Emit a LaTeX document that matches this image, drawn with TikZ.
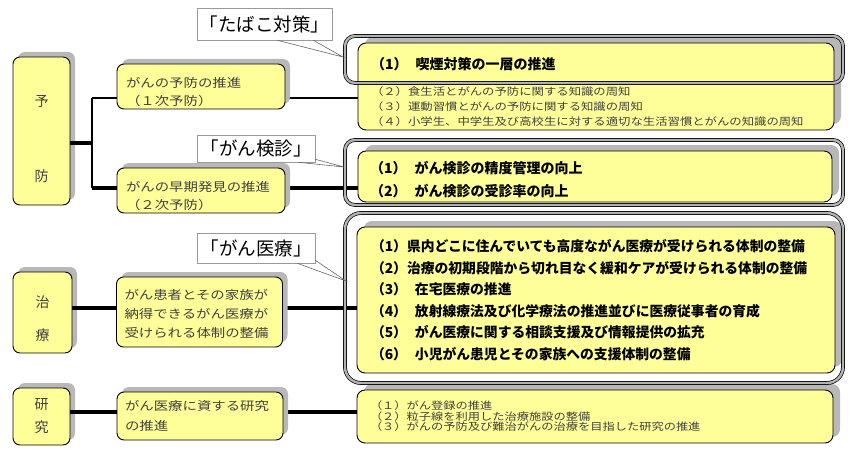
\documentclass[tikz,border=0pt]{standalone}
\usepackage{fontspec}
\setmainfont{Noto Sans CJK JP}
\newfontfamily\mincho[FakeStretch=1.2]{Noto Sans CJK JP}
\usetikzlibrary{shadows}
\usetikzlibrary{calc}

\definecolor{boxyellow}{HTML}{FFFF99}
\definecolor{shadowgray}{HTML}{B8B8B8}
\definecolor{textgray}{HTML}{404040}

% strut that pushes a text block down inside its box
\newcommand{\pushdown}[1]{\rule{0pt}{#1}}

\tikzset{
  boxshadow/.style={drop shadow={shadow xshift=5pt, shadow yshift=5pt, fill=shadowgray, opacity=1}},
  leftbox/.style={draw, line width=0.9pt, fill=boxyellow, rounded corners=7pt, boxshadow,
    align=center, inner sep=0pt, text=textgray, font=\fontsize{14}{18}\selectfont},
  midbox/.style={draw, line width=0.9pt, fill=boxyellow, rounded corners=7pt, boxshadow,
    align=left, text width=150pt, inner xsep=8pt, inner ysep=0pt, text=textgray,
    font=\mincho\fontsize{12}{18}\selectfont},
  itembox/.style={draw, line width=0.9pt, fill=boxyellow, rounded corners=8pt,
    drop shadow={shadow xshift=7pt, shadow yshift=6pt, fill=shadowgray, opacity=1},
    align=left, text width=450pt, inner ysep=0pt},
  framebox/.style={draw=black, line width=0.7pt, double=gray!60, double distance=2.4pt,
    rounded corners=10pt, inner sep=0pt},
  callout/.style={draw=gray!80, line width=0.6pt, fill=white, inner sep=0pt,
    font=\fontsize{18.5}{20}\selectfont},
  tail/.style={draw=gray!80!black, line width=0.6pt},
  thinline/.style={line width=2pt},
  branch/.style={line width=2.8pt},
  trunk/.style={line width=4pt},
}

\begin{document}
\begin{tikzpicture}[x=1pt, y=-1pt]

\useasboundingbox (0,0) rectangle (855,452);

% --- fork points of the connectors ---
\coordinate (forkM) at (92,143);
\coordinate (forkA) at (92,98);
\coordinate (forkB) at (92,188);

% --- left column ---
\node[leftbox, minimum width=57pt, minimum height=148pt] (yobou) at (41.5,131) {\pushdown{28pt}予\\[57pt]防};
\node[leftbox, minimum width=59pt, minimum height=81pt] (chiryo) at (42.5,312.5) {\pushdown{25pt}治\\[15pt]療};
\node[leftbox, minimum width=57pt, minimum height=57pt] (kenkyu) at (41.5,416.5) {研\\[5pt]究};

% --- connectors ---
\draw[trunk] (yobou.east |- forkM) -- (forkM);
\draw[branch] (forkA) -- (forkB);
\draw[branch] (forkA) -- (forkA -| 117,0);
\draw[trunk] (forkB) -- (forkB -| 117,0);
\draw[thinline] (285,98) -- (358,98);
\draw[trunk] (285,188) -- (358,188);
\draw[trunk] (chiryo.east |- 0,308) -- (357,308);
\draw[trunk] (kenkyu.east |- 0,412) -- (357,412);

% --- middle column ---
\node[midbox, minimum width=168pt, minimum height=45pt] (ichiji) at (201,86.5) {\pushdown{21pt}がんの予防の推進\\（１次予防）};
\node[midbox, minimum width=168pt, minimum height=45pt] (niji) at (201,190.5) {\pushdown{21pt}がんの早期発見の推進\\（２次予防）};
\node[midbox, minimum width=165pt, minimum height=70pt, font=\mincho\fontsize{12}{19}\selectfont] (seibi) at (199.5,312)
  {\pushdown{14pt}がん患者とその家族が\\納得できるがん医療が\\受けられる体制の整備};
\node[midbox, minimum width=166pt, minimum height=48pt, font=\mincho\fontsize{12}{20}\selectfont] (suishin) at (200,416)
  {がん医療に資する研究\\の推進};

% --- right column ---
\node[itembox, minimum width=476pt, minimum height=87pt, inner xsep=13pt, text=textgray,
  font=\mincho\fontsize{10.3}{15}\selectfont] (tabako) at (596,86.5)
  {{\normalfont\bfseries\fontsize{14}{16}\selectfont\color{black}\pushdown{22pt}（1）\hspace{8pt}喫煙対策の一層の推進}\\[11pt]
   （２）食生活とがんの予防に関する知識の周知\\
   （３）運動習慣とがんの予防に関する知識の周知\\
   （４）小学生、中学生及び高校生に対する適切な生活習慣とがんの知識の周知};

\node[itembox, minimum width=474pt, minimum height=51pt, inner xsep=12pt,
  font=\bfseries\fontsize{14}{23}\selectfont] (kenshin) at (595,176.5)
  {\pushdown{19pt}（1）\hspace{8pt}がん検診の精度管理の向上\\
   （2）\hspace{8pt}がん検診の受診率の向上};

\node[itembox, minimum width=478pt, minimum height=146pt, inner xsep=14pt,
  font=\bfseries\fontsize{13.8}{21.5}\selectfont] (iryo) at (596,300)
  {（1）県内どこに住んでいても高度ながん医療が受けられる体制の整備\\
   （2）治療の初期段階から切れ目なく緩和ケアが受けられる体制の整備\\
   （3）\hspace{8pt}在宅医療の推進\\
   （4）\hspace{8pt}放射線療法及び化学療法の推進並びに医療従事者の育成\\
   （5）\hspace{8pt}がん医療に関する相談支援及び情報提供の拡充\\
   （6）\hspace{8pt}小児がん患児とその家族への支援体制の整備};

\node[itembox, minimum width=476pt, minimum height=53pt, inner xsep=13pt, text=textgray,
  font=\mincho\fontsize{10.2}{10.5}\selectfont] (kenkyusuishin) at (595,416.5)
  {（１）がん登録の推進\\
   （２）粒子線を利用した治療施設の整備\\
   （３）がんの予防及び難治がんの治療を目指した研究の推進};

% --- highlight frames ---
\node[framebox, minimum width=498pt, minimum height=47pt] (frameA) at (594,59.5) {};
\node[framebox, minimum width=498pt, minimum height=65pt] (frameB) at (594,172.5) {};
\node[framebox, minimum width=498pt, minimum height=170pt, rounded corners=16pt] (frameC) at (594,298) {};

% --- callouts ---
\coordinate (tipA) at (343,57);
\coordinate (tipB) at (344,167);
\coordinate (tipC) at (346,281);

\node[callout, minimum width=135pt, minimum height=32pt] (callA) at (264.5,24) {「たばこ対策」};
\node[callout, minimum width=118pt, minimum height=27pt] (callB) at (256,148.5) {「がん検診」};
\node[callout, minimum width=118pt, minimum height=30pt] (callC) at (256,248) {「がん医療」};

\draw[tail] ([xshift=-55pt]callA.south east) -- (tipA) -- ([xshift=-19pt]callA.south east);
\draw[tail] ([xshift=-17pt]callB.south east) -- (tipB) -- ([yshift=3pt]callB.south east);
\draw[tail] ([xshift=-18pt]callC.south east) -- (tipC) -- ([yshift=3pt]callC.south east);

\end{tikzpicture}
\end{document}
